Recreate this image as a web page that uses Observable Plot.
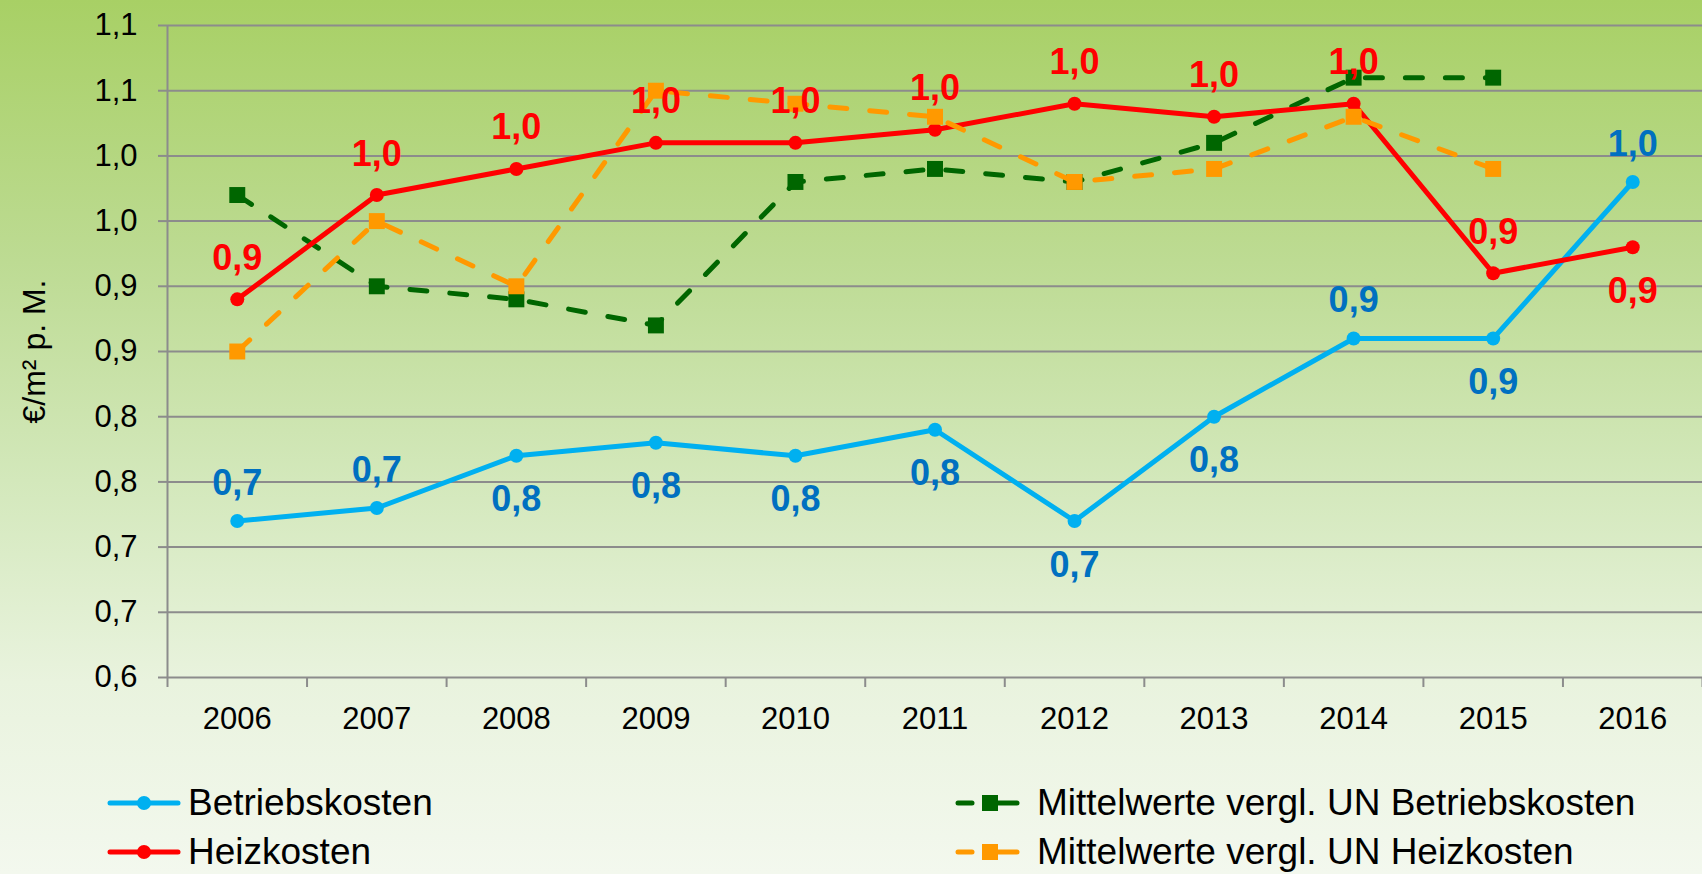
<!DOCTYPE html>
<html><head><meta charset="utf-8">
<script src="https://cdn.jsdelivr.net/npm/d3@7"></script>
<script src="https://cdn.jsdelivr.net/npm/@observablehq/plot@0.6"></script>
<style>
html,body{margin:0;padding:0;}
body{width:1702px;height:874px;overflow:hidden;position:relative;
 background:linear-gradient(to bottom,#a8d065 0%,#bddb93 30%,#d3e8bb 55%,#e9f3de 78%,#f3f8ee 100%);
 font-family:"Liberation Sans",Arial,sans-serif;}
#chart{position:absolute;left:0;top:0;}
.li{position:absolute;display:flex;align-items:center;height:44px;font-size:37px;color:#000;white-space:nowrap;}
.li svg{display:block;}
</style></head>
<body>
<div id="chart"></div>
<div id="legend"></div>
<script>
const years = [2006, 2007, 2008, 2009, 2010, 2011, 2012, 2013, 2014, 2015, 2016];
const betriebskosten = [0.72, 0.73, 0.77, 0.78, 0.77, 0.79, 0.72, 0.80, 0.86, 0.86, 0.98];
const heizkosten = [0.89, 0.97, 0.99, 1.01, 1.01, 1.02, 1.04, 1.03, 1.04, 0.91, 0.93];
const mittelBetriebskosten = [0.97, 0.90, 0.89, 0.87, 0.98, 0.99, 0.98, 1.01, 1.06, 1.06, null];
const mittelHeizkosten = [0.85, 0.95, 0.90, 1.05, 1.04, 1.03, 0.98, 0.99, 1.03, 0.99, null];
const seriesNames = ["Betriebskosten", "Heizkosten", "Mittelwerte vergl. UN Betriebskosten", "Mittelwerte vergl. UN Heizkosten"];
const yTicks = [0.60, 0.65, 0.70, 0.75, 0.80, 0.85, 0.90, 0.95, 1.00, 1.05, 1.10];
const yTickLabels = ["0,6", "0,7", "0,7", "0,8", "0,8", "0,9", "0,9", "1,0", "1,0", "1,1", "1,1"];
const yTitle = "€/m² p. M.";
// label placement for the data labels
const betriebLabelSide = ["above","above","below","below","below","below","below","below","above","below","above"];
const heizLabelSide = ["above","above","above","above","above","above","above","above","above","above","below"];

const fmt = v => (Math.round(v * 10) / 10).toFixed(1).replace(".", ",");
const rows = years.map((year, i) => ({
  year,
  betrieb: betriebskosten[i],
  heiz: heizkosten[i],
  mBetrieb: mittelBetriebskosten[i],
  mHeiz: mittelHeizkosten[i],
  bSide: betriebLabelSide[i],
  hSide: heizLabelSide[i]
}));
const boundaries = years.map(y => y - 0.5).concat([years[years.length - 1] + 0.5]);

const BLUE = "#00b0f0", BLUE_LABEL = "#0070c0", RED = "#ff0000", GREEN = "#006600", ORANGE = "#ff9900", GRID = "#8c8c8c";
const FONT = "'Liberation Sans', Arial, sans-serif";

const chart = Plot.plot({
  width: 1702,
  height: 770,
  marginLeft: 167,
  marginRight: 0,
  marginTop: 25,
  marginBottom: 93,
  style: {background: "transparent", fontFamily: FONT, overflow: "visible"},
  x: {domain: [years[0] - 0.5, years[years.length - 1] + 0.5]},
  y: {domain: [yTicks[0], yTicks[yTicks.length - 1]]},
  marks: [
    Plot.ruleY(yTicks, {stroke: GRID, strokeWidth: 2}),
    Plot.axisY({ticks: yTicks, tickFormat: d => yTickLabels[yTicks.findIndex(t => Math.abs(t - d) < 1e-9)],
      tickSize: 9, tickPadding: 21, fontSize: 31, stroke: GRID, strokeWidth: 2, fill: "#000", label: null}),
    Plot.axisX({ticks: years, tickFormat: d => String(d), tickSize: 0, tickPadding: 29, fontSize: 31, fill: "#000", label: null}),
    Plot.axisX({ticks: boundaries, tickFormat: () => "", tickSize: 10, stroke: GRID, strokeWidth: 2, label: null}),
    Plot.ruleX([boundaries[0]], {y1: yTicks[0], y2: yTicks[yTicks.length - 1], stroke: GRID, strokeWidth: 2}),
    Plot.text([yTitle], {frameAnchor: "left", dx: -133, rotate: -90, fontSize: 32, fill: "#000", textAnchor: "middle", lineAnchor: "middle"}),

    Plot.line(rows, {x: "year", y: "betrieb", stroke: BLUE, strokeWidth: 5, strokeLinejoin: "round"}),
    Plot.dot(rows, {x: "year", y: "betrieb", r: 7, fill: BLUE}),

    Plot.line(rows.filter(d => d.mBetrieb != null), {x: "year", y: "mBetrieb", stroke: GREEN, strokeWidth: 5, strokeDasharray: "17,23", strokeLinecap: "round"}),
    Plot.dot(rows.filter(d => d.mBetrieb != null), {x: "year", y: "mBetrieb", r: 9, symbol: "square", fill: GREEN}),

    Plot.line(rows, {x: "year", y: "heiz", stroke: RED, strokeWidth: 5, strokeLinejoin: "round"}),
    Plot.dot(rows, {x: "year", y: "heiz", r: 7, fill: RED}),

    Plot.line(rows.filter(d => d.mHeiz != null), {x: "year", y: "mHeiz", stroke: ORANGE, strokeWidth: 5, strokeDasharray: "17,23", strokeLinecap: "round"}),
    Plot.dot(rows.filter(d => d.mHeiz != null), {x: "year", y: "mHeiz", r: 9, symbol: "square", fill: ORANGE}),

    Plot.text(rows.filter(d => d.bSide === "above"), {x: "year", y: "betrieb", text: d => fmt(d.betrieb), dy: -38, fill: BLUE_LABEL, fontSize: 36, fontWeight: "bold"}),
    Plot.text(rows.filter(d => d.bSide === "below"), {x: "year", y: "betrieb", text: d => fmt(d.betrieb), dy: 44, fill: BLUE_LABEL, fontSize: 36, fontWeight: "bold"}),
    Plot.text(rows.filter(d => d.hSide === "above"), {x: "year", y: "heiz", text: d => fmt(d.heiz), dy: -41, fill: RED, fontSize: 36, fontWeight: "bold"}),
    Plot.text(rows.filter(d => d.hSide === "below"), {x: "year", y: "heiz", text: d => fmt(d.heiz), dy: 44, fill: RED, fontSize: 36, fontWeight: "bold"})
  ]
});
document.getElementById("chart").appendChild(chart);

// legend
const legend = document.getElementById("legend");
const solidSym = c => `<svg width="74" height="20"><line x1="3" y1="10" x2="71" y2="10" stroke="${c}" stroke-width="5" stroke-linecap="round"/><circle cx="37" cy="10" r="7" fill="${c}"/></svg>`;
const dashSym = c => `<svg width="66" height="20"><line x1="3" y1="10" x2="17" y2="10" stroke="${c}" stroke-width="5" stroke-linecap="round"/><line x1="40" y1="10" x2="62" y2="10" stroke="${c}" stroke-width="5" stroke-linecap="round"/><rect x="27" y="2" width="16" height="16" fill="${c}"/></svg>`;
const items = [
  {sym: solidSym(BLUE), name: seriesNames[0], left: 107, top: 781, gap: 7},
  {sym: solidSym(RED), name: seriesNames[1], left: 107, top: 830, gap: 7},
  {sym: dashSym(GREEN), name: seriesNames[2], left: 955, top: 781, gap: 16},
  {sym: dashSym(ORANGE), name: seriesNames[3], left: 955, top: 830, gap: 16}
];
for (const it of items) {
  const div = document.createElement("div");
  div.className = "li";
  div.style.left = it.left + "px";
  div.style.top = it.top + "px";
  div.innerHTML = it.sym + `<span style="margin-left:${it.gap}px">${it.name}</span>`;
  legend.appendChild(div);
}
</script>
</body></html>
